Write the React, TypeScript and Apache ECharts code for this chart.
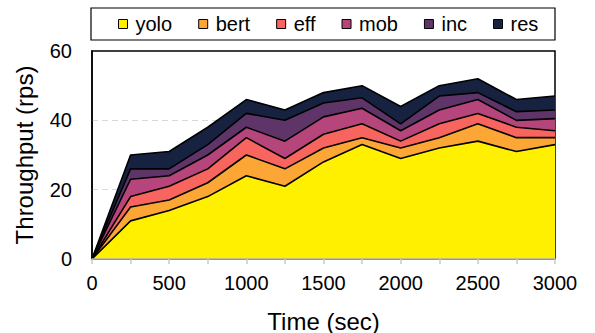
import React, { useEffect, useRef } from "react";
import * as echarts from "echarts";

const times = ["0", "250", "500", "750", "1000", "1250", "1500", "1750", "2000", "2250", "2500", "2750", "3000"];
const yolo = [0, 11, 14, 18, 24, 21, 28, 33, 29, 32, 34, 31, 33];
const bert = [0, 4, 3, 4, 6, 5, 4, 2, 3, 3, 5, 4, 2];
const eff = [0, 3, 4, 4, 5, 3, 4, 4, 2, 4, 3, 3, 2];
const mob = [0, 5, 3, 4, 3, 5, 5, 4.5, 3, 4, 4, 2, 3.5];
const inc = [0, 3, 2, 3, 4, 6, 4, 3, 2, 4, 2, 2.5, 2.5];
const res = [0, 4, 5, 5, 4, 3, 3, 3.5, 5, 3, 4, 3.5, 4];

const seriesNames = ["yolo", "bert", "eff", "mob", "inc", "res"];
const seriesValues = [yolo, bert, eff, mob, inc, res];
const colors = ["#fff000", "#fca636", "#f8655f", "#b5457a", "#5f3569", "#16223f"];

export default function App() {
  const ref = useRef<HTMLDivElement>(null);
  useEffect(() => {
    if (!ref.current) return;
    const chart = echarts.init(ref.current, undefined, { renderer: "svg" });
    const font = "Arial, 'Liberation Sans', sans-serif";
    chart.setOption({
      animation: false,
      textStyle: { fontFamily: font, color: "#000" },
      grid: {
        left: 92,
        right: 40,
        top: 51,
        bottom: 74,
        outerBoundsMode: "none",
        containLabel: false,
        show: true,
        borderColor: "#000",
        borderWidth: 1.5,
      },
      graphic: [
        {
          type: "rect",
          shape: { x: 91, y: 8, width: 464, height: 32 },
          style: { fill: "#fff", stroke: "#000", lineWidth: 1.2 },
          z: -1,
        },
      ],
      legend: {
        left: 118,
        top: 14,
        padding: 0,
        icon: "rect",
        itemWidth: 9,
        itemHeight: 9,
        itemGap: 26,
        textStyle: { fontSize: 20, fontFamily: font, color: "#000", padding: [0, 0, 0, 3] },
        itemStyle: { borderColor: "#000", borderWidth: 1 },
        data: seriesNames,
      },
      xAxis: {
        type: "category",
        data: times,
        boundaryGap: false,
        z: 3,
        name: "Time (sec)",
        nameLocation: "middle",
        nameGap: 50,
        nameTextStyle: { fontSize: 24, fontFamily: font, color: "#000" },
        axisLine: { show: true, lineStyle: { color: "#b0b0b0", width: 1.5 } },
        axisTick: { show: true, interval: 0, length: 5, lineStyle: { color: "#c8c8c8", width: 1.5 } },
        axisLabel: {
          fontSize: 20,
          color: "#000",
          margin: 14,
          interval: 1,
        },
        splitLine: { show: false },
      },
      yAxis: {
        type: "value",
        min: 0,
        max: 60,
        interval: 20,
        name: "Throughput (rps)",
        nameLocation: "middle",
        nameGap: 56,
        nameTextStyle: { fontSize: 24, fontFamily: font, color: "#000" },
        axisLine: { show: true, lineStyle: { color: "#000", width: 1.5 } },
        axisTick: { show: false },
        axisLabel: { fontSize: 20, color: "#000", margin: 20 },
        splitLine: {
          show: true,
          showMinLine: false,
          showMaxLine: false,
          lineStyle: { color: "#d9d9d9", type: [6, 4], width: 1.2 },
        },
      },
      series: seriesNames.map((name, i) => ({
        name,
        type: "line",
        stack: "total",
        symbol: "none",
        data: seriesValues[i],
        itemStyle: { color: colors[i] },
        lineStyle: { color: "#000", width: 1.6 },
        areaStyle: { color: colors[i], opacity: 1 },
        z: 2,
      })),
    });
    return () => chart.dispose();
  }, []);
  return (
    <div
      ref={ref}
      style={{ position: "absolute", left: 0, top: 0, width: 595, height: 333 }}
    />
  );
}
